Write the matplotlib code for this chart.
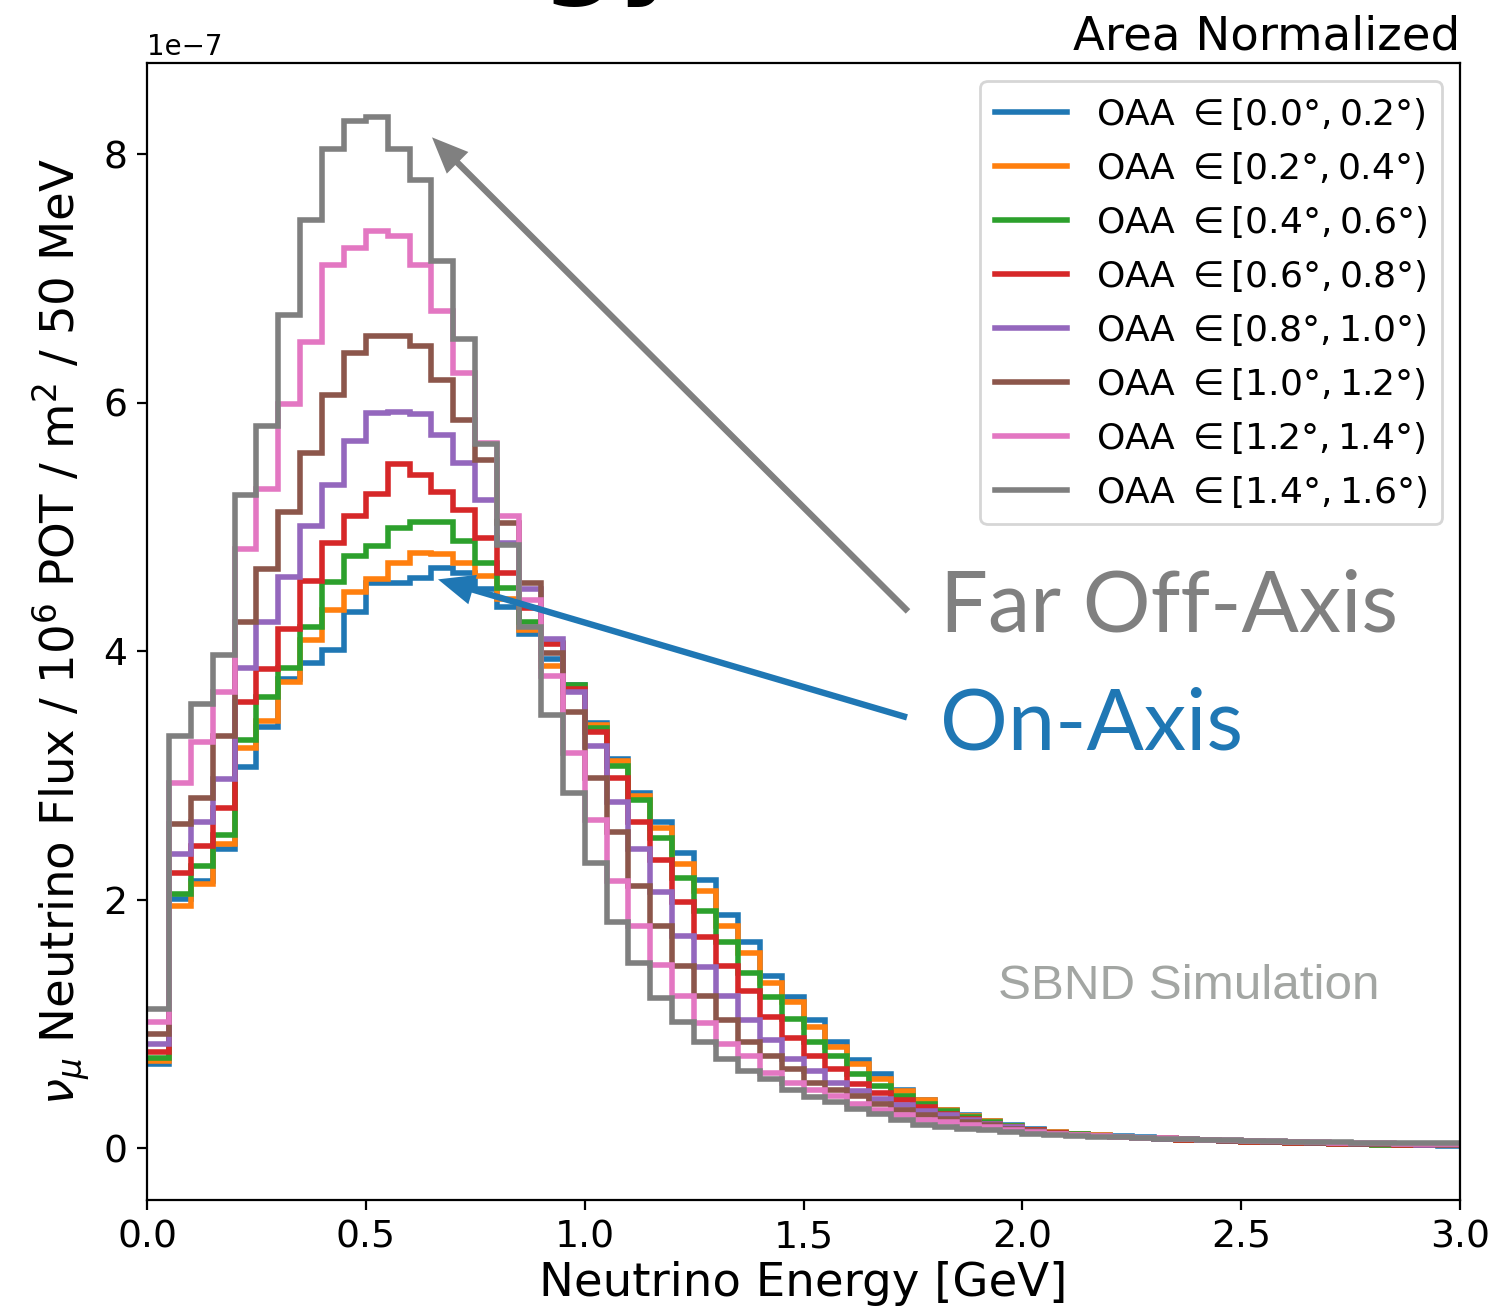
import numpy as np
import matplotlib
matplotlib.use("Agg")
import matplotlib.pyplot as plt

# Energy binning: 50 MeV bins from 0 to 3 GeV
bin_edges = np.linspace(0.0, 3.0, 61)

labels = [
    r"OAA $\in [0.0°, 0.2°)$",
    r"OAA $\in [0.2°, 0.4°)$",
    r"OAA $\in [0.4°, 0.6°)$",
    r"OAA $\in [0.6°, 0.8°)$",
    r"OAA $\in [0.8°, 1.0°)$",
    r"OAA $\in [1.0°, 1.2°)$",
    r"OAA $\in [1.2°, 1.4°)$",
    r"OAA $\in [1.4°, 1.6°)$",
]
colors = ["#1f77b4", "#ff7f0e", "#2ca02c", "#d62728",
          "#9467bd", "#8c564b", "#e377c2", "#7f7f7f"]

# Area-normalized numu flux per bin, in units of 1e-7
flux_00_02 = [0.68, 2.01, 2.15, 2.41, 3.07, 3.39, 3.78, 3.91, 4.01, 4.32,
              4.55, 4.55, 4.59, 4.67, 4.63, 4.50, 4.36, 4.14, 3.94, 3.73,
              3.42, 3.13, 2.86, 2.63, 2.38, 2.16, 1.88, 1.66, 1.39, 1.22,
              1.03, 0.86, 0.71, 0.60, 0.47, 0.39, 0.31, 0.27, 0.22, 0.19,
              0.16, 0.13, 0.12, 0.11, 0.10, 0.09, 0.08, 0.075, 0.07, 0.06,
              0.055, 0.05, 0.045, 0.04, 0.035, 0.033, 0.03, 0.028, 0.025, 0.023]
flux_02_04 = [0.70, 1.95, 2.13, 2.45, 3.22, 3.44, 3.75, 4.09, 4.33, 4.48,
              4.58, 4.71, 4.79, 4.78, 4.71, 4.61, 4.42, 4.17, 3.88, 3.72,
              3.41, 3.12, 2.84, 2.58, 2.29, 2.07, 1.79, 1.57, 1.33, 1.18,
              0.98, 0.82, 0.68, 0.56, 0.46, 0.39, 0.31, 0.26, 0.22, 0.18,
              0.15, 0.13, 0.115, 0.105, 0.095, 0.085, 0.08, 0.07, 0.065, 0.06,
              0.055, 0.05, 0.045, 0.04, 0.037, 0.034, 0.03, 0.028, 0.026, 0.024]
flux_04_06 = [0.73, 2.05, 2.27, 2.52, 3.29, 3.63, 3.87, 4.20, 4.56, 4.77,
              4.85, 4.99, 5.04, 5.04, 4.89, 4.71, 4.51, 4.24, 4.07, 3.73,
              3.38, 3.08, 2.80, 2.50, 2.18, 1.91, 1.66, 1.41, 1.22, 1.04,
              0.86, 0.74, 0.60, 0.50, 0.42, 0.36, 0.30, 0.25, 0.21, 0.18,
              0.15, 0.125, 0.115, 0.10, 0.095, 0.085, 0.078, 0.07, 0.065, 0.058,
              0.053, 0.048, 0.044, 0.04, 0.037, 0.034, 0.031, 0.029, 0.027, 0.025]
flux_06_08 = [0.78, 2.22, 2.43, 2.74, 3.59, 3.86, 4.18, 4.57, 4.87, 5.09,
              5.27, 5.51, 5.42, 5.28, 5.14, 4.91, 4.63, 4.35, 4.06, 3.70,
              3.35, 2.98, 2.63, 2.32, 1.98, 1.70, 1.47, 1.27, 1.06, 0.89,
              0.74, 0.64, 0.52, 0.45, 0.39, 0.33, 0.28, 0.24, 0.20, 0.17,
              0.15, 0.125, 0.11, 0.10, 0.09, 0.085, 0.078, 0.07, 0.065, 0.06,
              0.055, 0.05, 0.046, 0.042, 0.038, 0.035, 0.032, 0.03, 0.028, 0.026]
flux_08_10 = [0.84, 2.37, 2.63, 2.97, 3.87, 4.24, 4.60, 5.01, 5.34, 5.69,
              5.92, 5.93, 5.91, 5.74, 5.52, 5.22, 4.87, 4.50, 4.10, 3.67,
              3.24, 2.79, 2.41, 2.06, 1.71, 1.46, 1.23, 1.03, 0.87, 0.72,
              0.62, 0.53, 0.46, 0.40, 0.35, 0.30, 0.27, 0.23, 0.20, 0.17,
              0.14, 0.12, 0.11, 0.10, 0.09, 0.085, 0.078, 0.072, 0.066, 0.06,
              0.056, 0.052, 0.048, 0.044, 0.04, 0.037, 0.034, 0.032, 0.03, 0.028]
flux_10_12 = [0.92, 2.61, 2.82, 3.32, 4.24, 4.66, 5.12, 5.60, 6.06, 6.40,
              6.54, 6.54, 6.46, 6.18, 5.86, 5.54, 5.03, 4.55, 3.99, 3.51,
              2.98, 2.55, 2.11, 1.79, 1.47, 1.23, 1.03, 0.86, 0.74, 0.64,
              0.53, 0.47, 0.42, 0.36, 0.31, 0.27, 0.24, 0.21, 0.19, 0.16,
              0.14, 0.12, 0.11, 0.10, 0.092, 0.085, 0.08, 0.073, 0.068, 0.062,
              0.058, 0.054, 0.05, 0.046, 0.042, 0.039, 0.036, 0.034, 0.032, 0.03]
flux_12_14 = [1.02, 2.94, 3.27, 3.67, 4.82, 5.31, 5.99, 6.49, 7.11, 7.25,
              7.38, 7.34, 7.11, 6.74, 6.24, 5.68, 5.09, 4.41, 3.80, 3.18,
              2.64, 2.15, 1.79, 1.48, 1.23, 1.01, 0.84, 0.74, 0.61, 0.53,
              0.47, 0.42, 0.36, 0.31, 0.27, 0.23, 0.21, 0.19, 0.17, 0.15,
              0.13, 0.115, 0.105, 0.098, 0.09, 0.085, 0.08, 0.074, 0.069, 0.064,
              0.06, 0.056, 0.052, 0.048, 0.045, 0.042, 0.04, 0.038, 0.036, 0.034]
flux_14_16 = [1.12, 3.32, 3.58, 3.97, 5.26, 5.81, 6.71, 7.47, 8.04, 8.27,
              8.30, 8.04, 7.79, 7.14, 6.51, 5.67, 4.86, 4.20, 3.49, 2.86,
              2.30, 1.82, 1.49, 1.21, 1.02, 0.86, 0.72, 0.62, 0.56, 0.47,
              0.41, 0.37, 0.32, 0.28, 0.23, 0.19, 0.17, 0.16, 0.15, 0.13,
              0.12, 0.11, 0.10, 0.095, 0.088, 0.083, 0.078, 0.073, 0.069, 0.065,
              0.061, 0.058, 0.055, 0.052, 0.05, 0.047, 0.045, 0.043, 0.041, 0.04]

series = [flux_00_02, flux_02_04, flux_04_06, flux_06_08,
          flux_08_10, flux_10_12, flux_12_14, flux_14_16]
unit = 1e-7

W, H, DPI = 1496, 1315, 200
fig = plt.figure(figsize=(W / DPI, H / DPI), dpi=DPI)
ax = fig.add_axes([147 / W, 1 - 1200 / H, (1460 - 147) / W, (1200 - 63) / H])

for vals, col, lab in zip(series, colors, labels):
    ax.stairs(np.asarray(vals) * unit, bin_edges, color=col, lw=2.0,
              label=lab, baseline=None)

ax.set_xlim(0.0, 3.0)
ax.set_ylim(-0.415 * unit, 8.735 * unit)
ax.set_yticks(np.array([0, 2, 4, 6, 8]) * unit)
ax.tick_params(labelsize=13.6)
ax.yaxis.get_offset_text().set_fontsize(10)

ax.set_xlabel("Neutrino Energy [GeV]", fontsize=16.8, labelpad=2)
ax.set_ylabel(r"$\nu_\mu$ Neutrino Flux / $10^6$ POT / m$^2$ / 50 MeV",
              fontsize=16.8)
ax.set_title("Area Normalized", loc="right", fontsize=16.8, pad=5)

ax.legend(loc="upper right", fontsize=13, borderaxespad=0.5)

# Annotation arrows pointing at the on-axis and far off-axis peaks
def px(xp, yp):
    return ((xp - 147) / 437.67, (1149 - yp) / 124.25 * unit)

ax.annotate("", xy=px(432, 138), xytext=px(908, 612),
            arrowprops=dict(facecolor="#808080", edgecolor="none",
                            width=2.3, headwidth=11, headlength=13, shrink=0))
ax.annotate("", xy=px(438, 580), xytext=px(907, 718),
            arrowprops=dict(facecolor="#1f77b4", edgecolor="none",
                            width=2.3, headwidth=11, headlength=13, shrink=0))

x_txt, y_txt = px(940, 632)
ax.text(x_txt, y_txt, "Far Off-Axis", color="#808080", fontsize=30.5,
        family="Lato", va="baseline", ha="left")
x_txt, y_txt = px(940, 750)
ax.text(x_txt, y_txt, "On-Axis", color="#1f77b4", fontsize=30.5,
        family="Lato", va="baseline", ha="left")
x_txt, y_txt = px(998, 1000)
ax.text(x_txt, y_txt, "SBND Simulation", color="#a3a6a3", fontsize=17.8,
        family="Liberation Sans", va="baseline", ha="left")

# Slide heading sitting above the figure edge
fig.text(686 / W, 1 + 16 / H, "Energy", fontsize=38, weight="bold",
         ha="right", va="baseline")

fig.savefig("out.png", dpi=DPI)
